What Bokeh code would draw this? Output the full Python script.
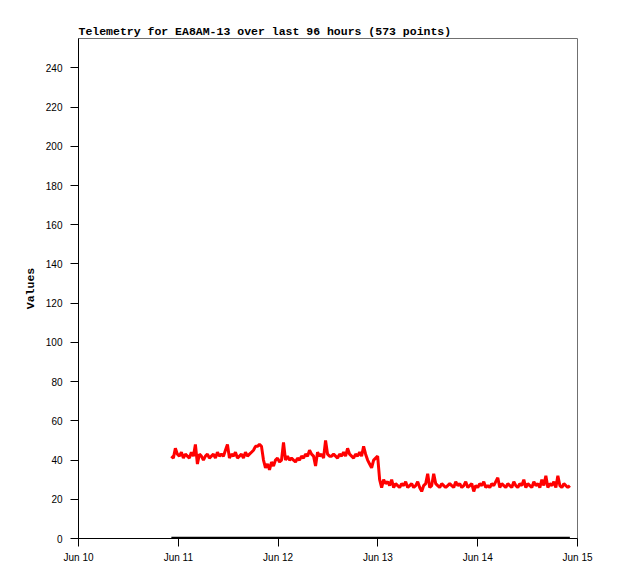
from datetime import datetime
import pandas as pd
from bokeh.plotting import figure
from bokeh.models import Range1d, FixedTicker, DatetimeTickFormatter
from bokeh.embed import file_html
from bokeh.resources import INLINE

title_text = "Telemetry for EA8AM-13 over last 96 hours (573 points)"
y_label = "Values"
y_ticks = [0, 20, 40, 60, 80, 100, 120, 140, 160, 180, 200, 220, 240]
x_tick_days = ["2024-06-10", "2024-06-11", "2024-06-12", "2024-06-13", "2024-06-14", "2024-06-15"]
series_start = "2024-06-10 22:20"
series_end = "2024-06-14 22:10"

values = [
    42, 41, 46, 43, 42, 44, 41, 43, 42, 41, 44, 42, 48, 38, 43, 42, 40, 42, 43, 41,
    42, 43, 41, 44, 42, 43, 42, 45, 48, 41, 43, 42, 44, 41, 42, 43, 41, 44, 42, 43,
    44, 45, 47, 47, 48, 47, 40, 36, 38, 35, 39, 37, 40, 41, 39, 40, 49, 40, 42, 40,
    41, 40, 39, 41, 40, 42, 41, 43, 42, 45, 43, 42, 37, 44, 42, 43, 41, 50, 43, 42,
    42, 43, 42, 41, 43, 42, 44, 42, 46, 43, 42, 41, 43, 42, 44, 42, 47, 43, 40, 38,
    36, 40, 41, 42, 30, 26, 30, 28, 29, 27, 30, 26, 28, 27, 26, 28, 27, 29, 26, 27,
    28, 26, 27, 29, 26, 24, 27, 28, 33, 26, 27, 33, 28, 27, 26, 28, 27, 26, 27, 28,
    27, 26, 29, 27, 28, 26, 27, 29, 26, 27, 28, 24, 27, 26, 28, 27, 29, 26, 27, 26,
    28, 27, 29, 31, 26, 28, 27, 26, 28, 27, 26, 29, 27, 26, 28, 27, 30, 26, 28, 27,
    26, 29, 27, 28, 26, 30, 27, 32, 26, 28, 27, 29, 26, 32, 27, 26, 28, 27, 26, 27,
]
zeros = [0] * len(values)

times = pd.date_range(series_start, series_end, periods=len(values))

MONO = "Liberation Mono"
SANS = "Liberation Sans"

p = figure(
    output_backend="svg", toolbar_location=None,
    x_axis_type="datetime",
    frame_width=499, frame_height=500,
    min_border_left=78, min_border_right=33, min_border_top=38, min_border_bottom=30,
    x_range=Range1d(pd.Timestamp("2024-06-10"), pd.Timestamp("2024-06-15")),
    y_range=Range1d(0, 255),
    title=title_text,
)
p.title.text_font = MONO
p.title.text_font_style = "bold"
p.title.text_font_size = "11.5px"
p.title.text_color = "black"
p.title.offset = 0
p.title.standoff = 2

p.line(times, values, line_color="#ff0000", line_width=3)
p.line(times, zeros, line_color="#000000", line_width=3.5)

p.xgrid.visible = False
p.ygrid.visible = False
p.outline_line_color = "#707070"
p.outline_line_width = 1

p.xaxis.ticker = FixedTicker(ticks=[pd.Timestamp(d).value / 1e6 for d in x_tick_days])
p.xaxis.formatter = DatetimeTickFormatter(days="%b %d", months="%b %d", hours="%b %d")
p.yaxis.ticker = FixedTicker(ticks=y_ticks)
for ax in (p.xaxis, p.yaxis):
    ax.axis_line_color = "black"
    ax.major_tick_line_color = "black"
    ax.major_tick_out = 8
    ax.major_tick_in = 0
    ax.minor_tick_line_color = None
    ax.major_label_text_font = SANS
    ax.major_label_text_font_size = "10px"
    ax.major_label_text_color = "black"
p.xaxis.major_label_standoff = 5
p.yaxis.major_label_standoff = 8
p.yaxis.axis_label = y_label
p.yaxis.axis_label_text_font = MONO
p.yaxis.axis_label_text_font_style = "bold"
p.yaxis.axis_label_text_font_size = "11.5px"
p.yaxis.axis_label_text_color = "black"
p.yaxis.axis_label_standoff = 6

open("out.html", "w").write(file_html(p, INLINE))
